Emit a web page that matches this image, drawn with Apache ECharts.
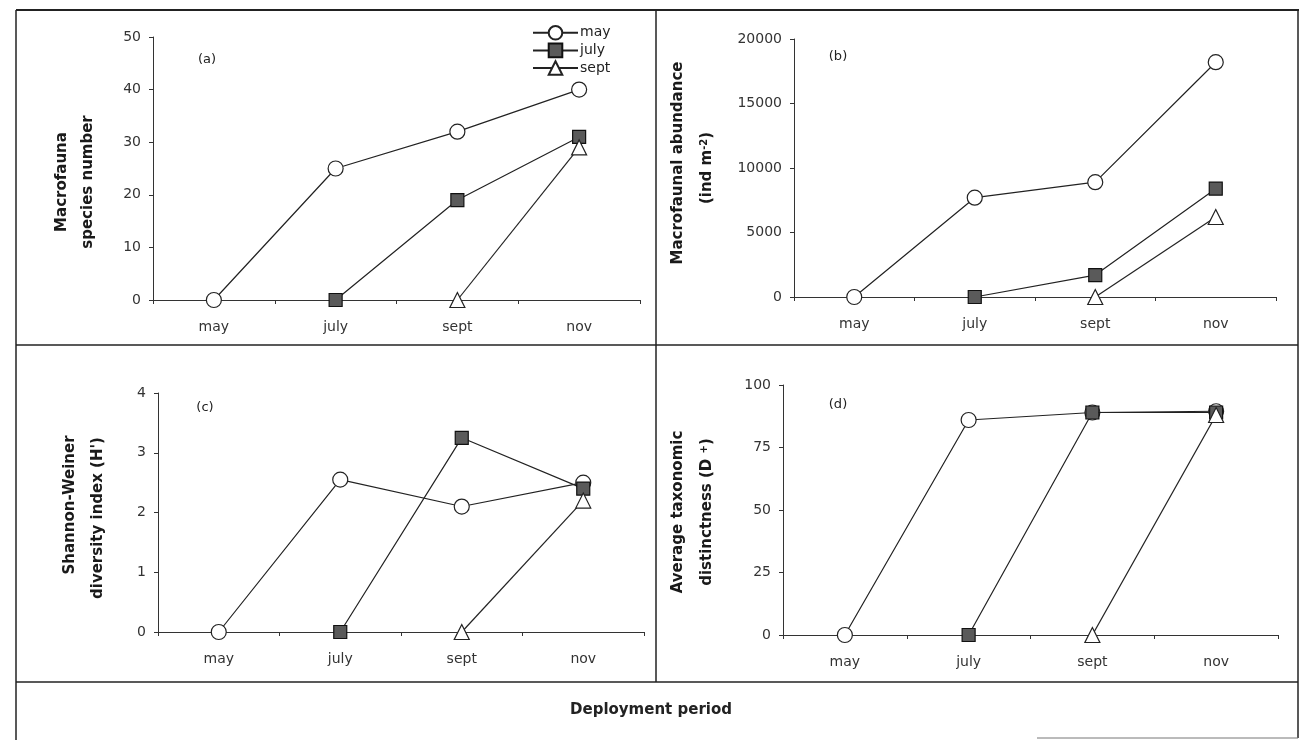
<!DOCTYPE html>
<html>
<head>
<meta charset="utf-8">
<script src="https://cdn.jsdelivr.net/npm/echarts@6/dist/echarts.min.js"></script>
<style>
html,body{margin:0;padding:0;background:#fff;}
#chart{width:1301px;height:740px;}
</style>
</head>
<body>
<div id="chart"></div>
<script>
// ---------- data ----------
var categories = ['may', 'july', 'sept', 'nov'];
var seriesNames = ['may', 'july', 'sept'];

// (a) Macrofauna species number
var speciesMay  = [0, 25, 32, 40];
var speciesJuly = [null, 0, 19, 31];
var speciesSept = [null, null, 0, 29];

// (b) Macrofaunal abundance (ind m-2)
var abundMay  = [0, 7700, 8900, 18200];
var abundJuly = [null, 0, 1700, 8400];
var abundSept = [null, null, 0, 6200];

// (c) Shannon-Weiner diversity index (H')
var shannonMay  = [0, 2.55, 2.1, 2.5];
var shannonJuly = [null, 0, 3.25, 2.4];
var shannonSept = [null, null, 0, 2.2];

// (d) Average taxonomic distinctness (D+)
var taxoMay  = [0, 86, 89, 89.5];
var taxoJuly = [null, 0, 89, 89];
var taxoSept = [null, null, 0, 88];

var yTicksA = {min: 0, max: 50, interval: 10};
var yTicksB = {min: 0, max: 20000, interval: 5000};
var yTicksC = {min: 0, max: 4, interval: 1};
var yTicksD = {min: 0, max: 100, interval: 25};

// ---------- styling ----------
var FONT = 'DejaVu Sans';
var LINE = '#222';
var markerStyles = {
  may:  {symbol: 'circle',   symbolSize: 15, itemStyle: {color: '#fff', borderColor: '#222', borderWidth: 1.2}},
  july: {symbol: 'rect',     symbolSize: 13, itemStyle: {color: '#5a5a5a', borderColor: '#111', borderWidth: 1.2}},
  sept: {symbol: 'triangle', symbolSize: 15, itemStyle: {color: '#fff', borderColor: '#222', borderWidth: 1.2}}
};

var grids = [
  {left: 153, top: 37,  width: 487, height: 263},
  {left: 794, top: 39,  width: 482, height: 258},
  {left: 158, top: 393, width: 486, height: 239},
  {left: 783, top: 385, width: 495, height: 250}
];
var yRanges = [yTicksA, yTicksB, yTicksC, yTicksD];
var panelData = [
  [speciesMay, speciesJuly, speciesSept],
  [abundMay, abundJuly, abundSept],
  [shannonMay, shannonJuly, shannonSept],
  [taxoMay, taxoJuly, taxoSept]
];

var xAxes = [], yAxes = [], series = [];
grids.forEach(function (g, i) {
  xAxes.push({
    type: 'category', gridIndex: i, data: categories, boundaryGap: true,
    axisLine: {lineStyle: {color: '#333', width: 1}},
    axisTick: {show: true, inside: false, length: 4, lineStyle: {color: '#333'}},
    axisLabel: {color: '#333', fontSize: 14, fontFamily: FONT, margin: 20},
    splitLine: {show: false}
  });
  var r = yRanges[i];
  yAxes.push({
    type: 'value', gridIndex: i, min: r.min, max: r.max, interval: r.interval,
    axisLine: {show: true, lineStyle: {color: '#333', width: 1}},
    axisTick: {show: true, inside: false, length: 4, lineStyle: {color: '#333'}},
    axisLabel: {color: '#333', fontSize: 14, fontFamily: FONT, margin: 12,
      formatter: function (v) { return String(v); }},
    splitLine: {show: false}
  });
  panelData[i].forEach(function (arr, k) {
    var name = seriesNames[k];
    var ms = markerStyles[name];
    series.push({
      type: 'line', name: name, xAxisIndex: i, yAxisIndex: i, data: arr,
      symbol: ms.symbol, symbolSize: ms.symbolSize, showAllSymbol: true,
      connectNulls: false,
      lineStyle: {color: LINE, width: 1.2},
      itemStyle: ms.itemStyle,
      z: 2 + k, animation: false
    });
  });
});

function vtext(x, y, text, extra) {
  var st = {text: text, x: 0, y: 0, align: 'center', verticalAlign: 'middle',
    fontFamily: FONT, fontWeight: 'bold', fontSize: 15, fill: '#1a1a1a'};
  if (extra) for (var k in extra) st[k] = extra[k];
  return {type: 'text', x: x, y: y, rotation: Math.PI / 2, style: st, z: 10};
}
function htext(x, y, text, size, weight) {
  return {type: 'text', x: x, y: y, style: {text: text, x: 0, y: 0, align: 'center', verticalAlign: 'middle',
    fontFamily: FONT, fontWeight: weight || 'normal', fontSize: size, fill: '#222'}, z: 10};
}
function hline(x1, y1, x2, y2, w, c) {
  return {type: 'line', shape: {x1: x1, y1: y1, x2: x2, y2: y2}, style: {stroke: c || '#222', lineWidth: w || 1.5}, z: 1};
}
var supRich = {sup: {fontSize: 10, fontFamily: FONT, fontWeight: 'bold', verticalAlign: 'top', fill: '#1a1a1a'}};

var graphics = [
  // frame
  hline(16, 10, 1299, 10, 2),
  hline(16, 10, 16, 740, 1.5),
  hline(1298, 10, 1298, 738, 1.5),
  hline(656, 10, 656, 682, 1.5),
  hline(16, 345, 1298, 345, 1.5),
  hline(16, 682, 1298, 682, 1.5),
  hline(1037, 738, 1298, 738, 1, '#777'),
  // y-axis titles
  vtext(62, 182, 'Macrofauna'),
  vtext(88, 182, 'species number'),
  vtext(678, 163, 'Macrofaunal abundance'),
  vtext(707, 168, '(ind m{sup|-2})', {rich: supRich}),
  vtext(70, 505, 'Shannon-Weiner'),
  vtext(98, 518, "diversity index (H')"),
  vtext(678, 512, 'Average taxonomic'),
  vtext(707, 512, 'distinctness (D {sup|+})', {rich: supRich}),
  // panel labels
  htext(207, 60, '(a)', 13),
  htext(838, 57, '(b)', 13),
  htext(205, 408, '(c)', 13),
  htext(838, 405, '(d)', 13),
  // x title
  htext(651, 710, 'Deployment period', 15, 'bold')
];

var chart = echarts.init(document.getElementById('chart'), null, {renderer: 'canvas'});
chart.setOption({
  backgroundColor: '#fff',
  animation: false,
  grid: grids,
  xAxis: xAxes,
  yAxis: yAxes,
  legend: {
    data: seriesNames, orient: 'vertical', left: 527, top: 20,
    itemWidth: 45, itemHeight: 17, itemGap: 2,
    textStyle: {fontSize: 14, fontFamily: FONT, color: '#222', padding: [0, 0, 0, -3]}
  },
  series: series,
  graphic: graphics
});
</script>
</body>
</html>
